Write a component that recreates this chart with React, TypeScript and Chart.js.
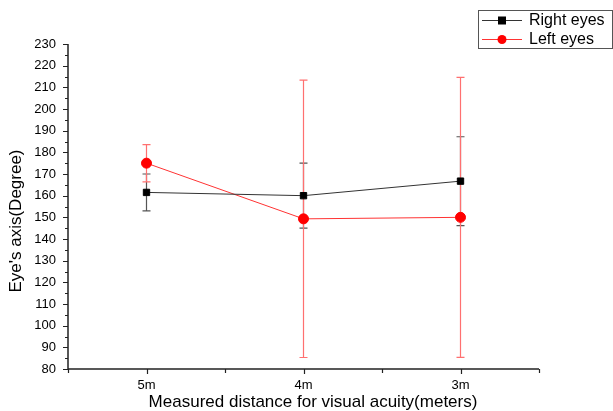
import React, { useEffect, useRef } from "react";
import { Chart, registerables } from "chart.js";

Chart.register(...registerables);

const categories = ["5m", "4m", "3m"];
const rightMean = [161.5, 160, 166.7];
const rightErr = [8.5, 15, 20.5];
const leftMean = [175, 149.3, 150];
const leftErr = [8.6, 64, 64.6];
const yTickMin = 80;
const yTickMax = 230;
const yStep = 10;
const seriesNames = ["Right eyes", "Left eyes"];
const xTitle = "Measured distance for visual acuity(meters)";
const yTitle = "Eye's axis(Degree)";

const FONT = "'Liberation Sans', Arial, sans-serif";

const RIGHT_COLOR = "#000000";
const RIGHT_LINE = "#333333";
const RIGHT_ERR = "#555555";
const LEFT_COLOR = "#ff0000";
const LEFT_LINE = "#ff3333";
const LEFT_ERR = "#ff7070";

const errorPlugin = {
  id: "errbars",
  beforeDatasetsDraw(chart: any) {
    const ctx = chart.ctx;
    const x = chart.scales.x;
    const y = chart.scales.y;
    const draw = (means: number[], errs: number[], color: string) => {
      ctx.save();
      ctx.strokeStyle = color;
      ctx.lineWidth = 1.2;
      means.forEach((m, i) => {
        const px = x.getPixelForValue(i);
        const top = y.getPixelForValue(m + errs[i]);
        const bot = y.getPixelForValue(m - errs[i]);
        ctx.beginPath();
        ctx.moveTo(px, top);
        ctx.lineTo(px, bot);
        ctx.moveTo(px - 4, top);
        ctx.lineTo(px + 4, top);
        ctx.moveTo(px - 4, bot);
        ctx.lineTo(px + 4, bot);
        ctx.stroke();
      });
      ctx.restore();
    };
    draw(rightMean, rightErr, RIGHT_ERR);
    draw(leftMean, leftErr, LEFT_ERR);
  },
  afterDraw(chart: any) {
    const ctx = chart.ctx;
    const a = chart.chartArea;
    const x = chart.scales.x;
    const y = chart.scales.y;
    ctx.save();
    ctx.strokeStyle = "#222";
    ctx.lineWidth = 1.5;
    ctx.beginPath();
    ctx.moveTo(a.left, a.top);
    ctx.lineTo(a.left, a.bottom);
    ctx.lineTo(a.right, a.bottom);
    ctx.stroke();
    ctx.lineWidth = 1.2;
    ctx.beginPath();
    for (let v = yTickMin; v <= yTickMax; v += yStep / 2) {
      const py = Math.round(y.getPixelForValue(v)) + 0.5;
      const len = (v - yTickMin) % yStep === 0 ? 5 : 3;
      ctx.moveTo(a.left, py);
      ctx.lineTo(a.left - len, py);
    }
    for (let k = -0.5; k <= categories.length - 0.5; k += 0.5) {
      const px = Math.round(x.getPixelForValue(k)) + 0.5;
      const len = Number.isInteger(k) ? 5 : 4;
      ctx.moveTo(px, a.bottom);
      ctx.lineTo(px, a.bottom + len);
    }
    ctx.stroke();

    // titles
    ctx.fillStyle = "#000";
    ctx.font = `17px ${FONT}`;
    ctx.textAlign = "center";
    ctx.textBaseline = "middle";
    ctx.fillText(xTitle, 313, 402);
    ctx.save();
    ctx.translate(16, 221);
    ctx.rotate(-Math.PI / 2);
    ctx.font = `17px ${FONT}`;
    ctx.fillText(yTitle, 0, 0);
    ctx.restore();

    // legend
    ctx.strokeStyle = "#555";
    ctx.lineWidth = 1;
    ctx.strokeRect(478.5, 10.5, 134, 38);
    const rows = [
      { name: seriesNames[0], line: RIGHT_LINE, fill: RIGHT_COLOR, sq: true, yy: 20 },
      { name: seriesNames[1], line: LEFT_LINE, fill: LEFT_COLOR, sq: false, yy: 39 },
    ];
    rows.forEach((r) => {
      ctx.strokeStyle = r.line;
      ctx.lineWidth = 1;
      ctx.beginPath();
      ctx.moveTo(482, r.yy + 0.5);
      ctx.lineTo(522, r.yy + 0.5);
      ctx.stroke();
      ctx.fillStyle = r.fill;
      if (r.sq) {
        ctx.fillRect(498, r.yy - 3.5, 8, 8);
      } else {
        ctx.beginPath();
        ctx.arc(502, r.yy + 0.5, 4.5, 0, Math.PI * 2);
        ctx.fill();
      }
      ctx.fillStyle = "#000";
      ctx.font = `16px ${FONT}`;
      ctx.textAlign = "left";
      ctx.textBaseline = "middle";
      ctx.fillText(r.name, 529, r.yy + 1);
    });
    ctx.restore();
  },
};

export default function App() {
  const ref = useRef<HTMLCanvasElement>(null);
  useEffect(() => {
    if (!ref.current) return;
    const chart = new Chart(ref.current, {
      type: "line",
      data: {
        labels: categories,
        datasets: [
          {
            label: seriesNames[0],
            data: rightMean,
            borderColor: RIGHT_LINE,
            backgroundColor: RIGHT_COLOR,
            pointBackgroundColor: RIGHT_COLOR,
            pointBorderColor: RIGHT_COLOR,
            pointStyle: "rect",
            pointRadius: 4.5,
            borderWidth: 1,
            tension: 0,
          },
          {
            label: seriesNames[1],
            data: leftMean,
            borderColor: LEFT_LINE,
            backgroundColor: LEFT_COLOR,
            pointBackgroundColor: LEFT_COLOR,
            pointBorderColor: LEFT_COLOR,
            pointStyle: "circle",
            pointRadius: 5,
            borderWidth: 1,
            tension: 0,
          },
        ],
      },
      options: {
        responsive: false,
        animation: false,
        layout: { padding: { top: 44, right: 74, left: 0, bottom: 0 } },
        plugins: { legend: { display: false }, tooltip: { enabled: false } },
        scales: {
          x: {
            type: "category",
            offset: true,
            grid: { display: false, drawTicks: false },
            border: { display: false },
            ticks: { font: { family: FONT, size: 13 }, color: "#000", padding: 9 },
            afterFit: (s: any) => {
              s.height = 42;
            },
          },
          y: {
            min: yTickMin,
            max: yTickMax,
            grid: { display: false, drawTicks: false },
            border: { display: false },
            ticks: { stepSize: yStep, font: { family: FONT, size: 13 }, color: "#000", padding: 12 },
            afterFit: (s: any) => {
              s.width = 68;
            },
          },
        },
      },
      plugins: [errorPlugin],
    });
    return () => chart.destroy();
  }, []);
  return (
    <div style={{ position: "absolute", left: 0, top: 0, width: 613, height: 411, background: "#fff" }}>
      <canvas ref={ref} width={613} height={411} style={{ display: "block" }} />
    </div>
  );
}
